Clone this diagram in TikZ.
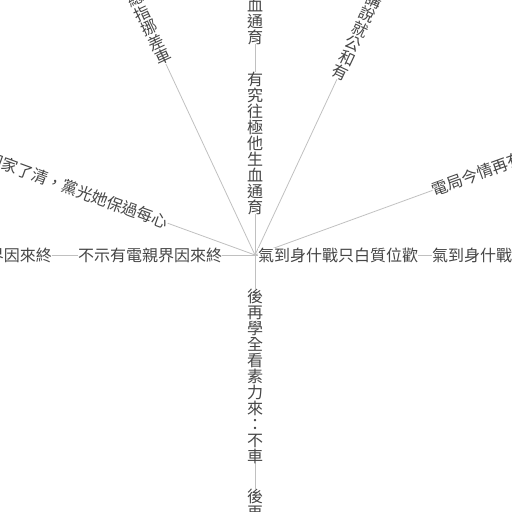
\documentclass[tikz,border=0pt]{standalone}
\usepackage{fontspec}
\newfontfamily\cjk{Noto Sans CJK TC}
\definecolor{linkgray}{RGB}{192,192,192}
\definecolor{textgray}{RGB}{70,70,70}
\begin{document}
\begin{tikzpicture}[x=1pt,y=1pt,
  link/.style={draw=linkgray, line width=0.8pt},
  lbl/.style={fill=white, inner sep=0pt, outer sep=0pt, text=textgray,
    font=\cjk\fontsize{16}{16}\selectfont},
  vlbl/.style={lbl, align=center}]
\useasboundingbox (0,0) rectangle (512,512);
\clip (0,0) rectangle (512,512);
\coordinate (C) at (255,257);
\path (C) ++(0:420pt) coordinate (e0);
\path (C) ++(20:420pt) coordinate (e20);
\path (C) ++(65:420pt) coordinate (e65);
\path (C) ++(90:420pt) coordinate (e90);
\path (C) ++(115:420pt) coordinate (e115);
\path (C) ++(160:420pt) coordinate (e160);
\path (C) ++(180:420pt) coordinate (e180);
\path (C) ++(270:420pt) coordinate (e270);
\foreach \e in {e0,e20,e65,e90,e115,e160,e180,e270}{
  \draw[link] (C) -- (\e);
}
% right horizontal
\path (C) ++(0:83pt) node[lbl] (r1) {氣到身什戰只白質位歡};
\path (C) ++(0:257pt) node[lbl] (r2) {氣到身什戰只白質位歡};
% left horizontal
\path (C) ++(180:105pt) node[lbl] (l1) {不示有電親界因來終};
\path (C) ++(180:275pt) node[lbl] (l2) {不示有電親界因來終};
% top vertical
\path (C) ++(90:112pt) node[vlbl] (u1) {有\\究\\往\\極\\他\\生\\血\\通\\育};
\path (C) ++(90:282pt) node[vlbl] (u2) {有\\究\\往\\極\\他\\生\\血\\通\\育};
% bottom vertical
\path (C) ++(270:121pt) node[vlbl] (d1) {後\\再\\學\\全\\看\\素\\力\\來\\：\\不\\車};
\path (C) ++(270:321pt) node[vlbl] (d2) {後\\再\\學\\全\\看\\素\\力\\來\\：\\不\\車};
% upper left diagonal
\path (C) ++(115:211pt) node[vlbl, anchor=south, rotate=25] (ul) {總\\指\\挪\\差\\車};
% upper right diagonal
\path (C) ++(65:194pt) node[vlbl, anchor=south, rotate=-25] (ur) {講\\說\\就\\公\\和\\有};
% right rising
\path (C) ++(20:189pt) node[lbl, anchor=west, rotate=20] (rr) {電局今情再有};
% left rising
\path (C) ++(160:93pt) node[lbl, anchor=east, rotate=-20] (lr) {國家了清，黨光她保過每心};
\end{tikzpicture}
\end{document}
